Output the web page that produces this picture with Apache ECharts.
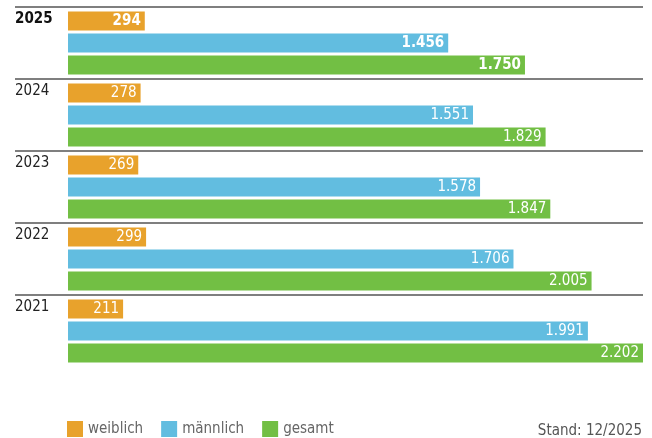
<!DOCTYPE html>
<html>
<head>
<meta charset="utf-8">
<script src="https://cdn.jsdelivr.net/npm/echarts@6/dist/echarts.min.js"></script>
<style>
  html, body { margin: 0; padding: 0; background: #fff; }
  #chart { width: 652px; height: 438px; }
</style>
</head>
<body>
<div id="chart"></div>
<script>
var years = ['2025', '2024', '2023', '2022', '2021'];
var weiblich = [294, 278, 269, 299, 211];
var maennlich = [1456, 1551, 1578, 1706, 1991];
var gesamt = [1750, 1829, 1847, 2005, 2202];
var seriesNames = ['weiblich', 'männlich', 'gesamt'];
var colors = ['#e8a22c', '#62bde0', '#72bf44'];
var font = '"DejaVu Sans Condensed", "Liberation Sans Narrow", sans-serif';

function fmt(v) {
    if (v < 1000) return '' + v;
    var r = v % 1000;
    return Math.floor(v / 1000) + '.' + (r < 10 ? '00' : r < 100 ? '0' : '') + r;
}

// first year (2025) is highlighted bold
function rows(vals) {
    return vals.map(function (v, i) {
        return i === 0 ? { value: v, label: { fontWeight: 'bold' } } : v;
    });
}

var chart = echarts.init(document.getElementById('chart'));

function makeSeries(name, vals) {
    return {
        name: name,
        type: 'bar',
        barWidth: 19,
        barGap: '16%',
        data: rows(vals),
        label: {
            show: true,
            position: 'insideRight',
            distance: 4,
            color: '#fff',
            fontSize: 15,
            fontFamily: font,
            formatter: function (p) { return fmt(p.value); }
        },
        emphasis: { disabled: true }
    };
}

var option = {
    color: colors,
    animation: false,
    textStyle: { fontFamily: font },
    title: {
        text: 'Stand: 12/2025',
        right: 5,
        top: 419,
        textStyle: { fontSize: 15, fontWeight: 'normal', color: '#555', fontFamily: font }
    },
    legend: {
        left: 62,
        top: 416,
        icon: 'rect',
        itemWidth: 16,
        itemHeight: 16,
        itemGap: 18,
        data: seriesNames,
        textStyle: { fontSize: 15, color: '#666', fontFamily: font }
    },
    grid: {
        left: 15,
        right: 9,
        top: 7,
        bottom: 71
    },
    xAxis: {
        type: 'value',
        min: -203,
        max: 2202,
        show: false
    },
    yAxis: {
        type: 'category',
        inverse: true,
        data: years,
        axisLine: { show: false, onZero: false },
        axisTick: { show: false },
        splitLine: {
            show: true,
            showMaxLine: false,
            lineStyle: { color: '#555', width: 1.5 }
        },
        axisLabel: {
            inside: true,
            margin: 0,
            padding: [0, 0, 48, 0],
            color: '#222',
            fontSize: 15,
            fontFamily: font,
            formatter: function (v, i) {
                return i === 0 ? '{b|' + v + '}' : '{n|' + v + '}';
            },
            rich: {
                b: { fontWeight: 'bold', fontSize: 15, color: '#111', fontFamily: font },
                n: { fontSize: 15, color: '#222', fontFamily: font }
            }
        }
    },
    series: [
        makeSeries(seriesNames[0], weiblich),
        makeSeries(seriesNames[1], maennlich),
        makeSeries(seriesNames[2], gesamt)
    ]
};

chart.setOption(option);
</script>
</body>
</html>
